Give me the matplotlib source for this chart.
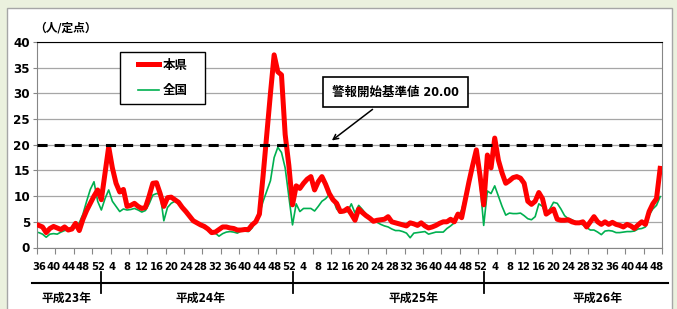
import numpy as np
import matplotlib
matplotlib.use("Agg")
import matplotlib.pyplot as plt
from matplotlib import font_manager
import matplotlib.patheffects as pe
from matplotlib.patches import Rectangle
from matplotlib.lines import Line2D
from matplotlib.transforms import blended_transform_factory

# pick a narrow font for the numbers if one is installed
fonts = font_manager.fontManager.ttflist
names = {f.name for f in fonts}
num_stretch = 'normal'
xlab_size = 7.5
if 'Liberation Sans Narrow' in names:
    num_family = 'Liberation Sans Narrow'
    xlab_size = 9
elif any(f.name == 'DejaVu Sans' and f.stretch == 'condensed' for f in fonts):
    num_family = 'DejaVu Sans'
    num_stretch = 'condensed'
    xlab_size = 8
else:
    num_family = 'Liberation Sans'
cjk_bold = any(f.name == 'Noto Sans CJK JP' and f.weight in (700, 'bold') for f in fonts)

plt.rcParams['font.family'] = [num_family, 'Noto Sans CJK JP', 'DejaVu Sans']
plt.rcParams['font.weight'] = 'bold'
plt.rcParams['font.stretch'] = num_stretch
fake_bold = [] if cjk_bold else [pe.withStroke(linewidth=0.7, foreground='black')]

# ---- data (weekly cases per sentinel) ----
year_labels = ['平成23年', '平成24年', '平成25年', '平成26年']
weeks_h23 = list(range(36, 53))
weeks_h24 = list(range(1, 53))
weeks_h25 = list(range(1, 53))
weeks_h26 = list(range(1, 50))

# 本県
ken_h23 = [4.3, 4.0, 2.9, 3.7, 4.1, 3.8, 3.5, 4.0, 3.4, 3.6, 4.7, 3.3, 5.5, 7.2, 8.6, 10.0, 11.2]
ken_h24 = [9.3, 14.5, 19.6, 15.5, 12.5, 10.8, 11.3, 8.0, 8.2, 8.6, 8.0, 7.6, 7.8, 10.0, 12.5, 12.6,
           10.5, 8.0, 9.7, 9.8, 9.3, 8.8, 7.8, 7.0, 6.1, 5.2, 4.8, 4.4, 4.1, 3.6, 2.9, 3.0,
           3.5, 4.0, 4.0, 3.8, 3.7, 3.4, 3.4, 3.5, 3.5, 4.4, 5.0, 6.5, 14.0, 22.0, 30.0, 37.5,
           34.2, 33.6, 22.0, 16.0]
ken_h25 = [8.3, 12.0, 11.5, 12.5, 13.3, 13.8, 11.2, 12.8, 13.8, 12.3, 10.5, 9.3, 8.6, 7.0, 7.1, 7.6,
           6.5, 5.3, 7.5, 6.8, 6.2, 5.7, 5.1, 5.3, 5.4, 5.5, 6.0, 5.0, 4.8, 4.6, 4.4, 4.2,
           4.8, 4.6, 4.3, 4.8, 4.2, 3.8, 4.0, 4.3, 4.7, 5.0, 5.0, 5.5, 5.0, 6.5, 5.8, 9.3,
           12.8, 16.0, 19.0, 14.0]
ken_h26 = [8.3, 18.0, 15.5, 21.3, 17.0, 14.5, 12.5, 13.0, 13.6, 13.8, 13.5, 12.5, 9.0, 8.4, 9.0, 10.7,
           9.5, 6.5, 7.0, 7.5, 5.5, 5.3, 5.3, 5.4, 5.0, 4.8, 4.8, 5.0, 4.0, 5.0, 6.0, 5.0,
           4.5, 5.0, 4.5, 4.9, 4.5, 4.3, 4.0, 4.5, 4.2, 3.7, 4.4, 5.0, 4.5, 7.0, 8.5, 9.5, 15.4]

# 全国
zen_h23 = [2.9, 2.6, 2.0, 2.6, 2.7, 2.6, 3.0, 3.3, 3.4, 3.4, 4.0, 4.8, 6.5, 9.0, 11.3, 12.8, 9.0]
zen_h24 = [7.3, 9.5, 11.2, 9.0, 8.0, 7.0, 7.5, 7.3, 7.4, 7.6, 7.3, 6.9, 7.2, 8.5, 10.2, 10.5,
           10.4, 5.2, 7.8, 8.6, 9.0, 8.7, 7.9, 7.0, 6.3, 5.3, 5.0, 4.3, 3.8, 3.5, 3.3, 2.8,
           2.2, 2.7, 3.0, 3.1, 3.0, 2.8, 3.2, 3.2, 3.1, 3.8, 5.0, 6.5, 9.0, 11.0, 13.0, 17.5,
           19.5, 18.5, 15.5, 10.0]
zen_h25 = [4.4, 8.5, 7.0, 7.6, 7.6, 7.6, 7.1, 8.0, 9.0, 9.5, 10.3, 9.5, 7.5, 6.7, 6.9, 7.0,
           8.5, 6.7, 8.2, 7.4, 6.5, 6.0, 5.3, 4.9, 4.5, 4.2, 4.0, 3.6, 3.3, 3.3, 3.1, 2.8,
           1.9, 2.8, 2.9, 3.0, 3.1, 2.6, 2.8, 3.0, 3.0, 3.0, 3.7, 4.2, 4.8, 6.0, 7.3, 10.0,
           12.5, 15.2, 18.3, 12.5]
zen_h26 = [4.3, 11.0, 10.5, 12.0, 10.0, 8.0, 6.3, 6.7, 6.6, 6.6, 6.7, 6.2, 5.6, 5.4, 6.0, 8.5,
           8.0, 6.3, 7.5, 8.8, 8.6, 7.5, 6.2, 5.6, 5.4, 5.0, 4.7, 4.4, 3.9, 3.4, 3.4, 3.0,
           2.5, 3.2, 3.3, 3.2, 2.9, 2.9, 3.0, 3.1, 3.1, 3.2, 3.6, 3.7, 4.0, 6.3, 7.5, 8.2, 9.9]

threshold = 20.00

weeks = weeks_h23 + weeks_h24 + weeks_h25 + weeks_h26
ken = np.array(ken_h23 + ken_h24 + ken_h25 + ken_h26)
zen = np.array(zen_h23 + zen_h24 + zen_h25 + zen_h26)
n = len(weeks)
x = np.arange(n)
# first week of each new year (for the separators)
year_starts = [len(weeks_h23), len(weeks_h23) + len(weeks_h24),
               len(weeks_h23) + len(weeks_h24) + len(weeks_h25)]
year_label_pos = [7.5, 44, 102, 152]

W, H = 677, 309
fig = plt.figure(figsize=(W / 100, H / 100), dpi=100, facecolor='#EBF1DE')
fig.add_artist(Rectangle((7 / W, -0.05), (672 - 7) / W, 1.05 - 8 / H, transform=fig.transFigure,
                         fc='white', ec='#A6A6A6', lw=1, zorder=-1))

ax = fig.add_axes([37 / W, 1 - 247.5 / H, (662 - 37) / W, (247.5 - 42) / H])
ax.set_facecolor('white')

ax.plot(x, zen, color='#00B050', lw=1.2, zorder=3)
ax.plot(x, ken, color='#FF0000', lw=3.6, solid_joinstyle='round', zorder=4)
ax.axhline(threshold, color='black', lw=2.2, ls=(0, (3.3, 2.3)), zorder=5)

ax.set_xlim(-0.5, n - 0.5)
ax.set_ylim(0, 40)
ax.set_yticks(np.arange(0, 41, 5))
ax.grid(axis='y', color='#A6A6A6', lw=0.9)
ax.set_axisbelow(True)

ax.set_xticks(np.arange(-0.5, n, 5))
ax.set_xticklabels([])
ax.set_xticks(x[::4], minor=True)
ax.set_xticklabels([str(w) for w in weeks[::4]], minor=True)
ax.tick_params(axis='x', which='major', length=4, color='#868686', direction='out')
ax.tick_params(axis='x', which='minor', length=0, pad=10.5, labelsize=xlab_size)
ax.tick_params(axis='y', length=3, color='#868686', pad=2, labelsize=9.5)

for s in ['left', 'bottom', 'right']:
    ax.spines[s].set_color('#868686')
ax.spines['top'].set_color('black')

# threshold label
ax.annotate('警報開始基準値 20.00', xy=(79.1, 20.5), xytext=(97, 30.3),
            ha='center', va='center', fontsize=9, fontweight='bold', zorder=6,
            path_effects=fake_bold,
            bbox=dict(boxstyle='square,pad=0.7', fc='white', ec='black', lw=1.2),
            arrowprops=dict(arrowstyle='->', color='black', lw=1.1))

# legend
fig.add_artist(Rectangle((120 / W, 1 - 104 / H), 85 / W, 52 / H, transform=fig.transFigure,
                         fc='white', ec='black', lw=1, zorder=2))
handles = [Line2D([], [], color='#FF0000', lw=3.6), Line2D([], [], color='#00B050', lw=1.2)]
leg = fig.legend(handles, ['本県', '全国'], loc='center', bbox_to_anchor=(163 / W, 1 - 78 / H),
                 frameon=False, fontsize=9, handlelength=1.7, handletextpad=0.3, labelspacing=1.0)
for t in leg.get_texts():
    t.set_path_effects(fake_bold)

fig.text(34 / W, 1 - 28 / H, '（人/定点）', ha='left', va='center', fontsize=8.5,
         path_effects=fake_bold)

# year axis below
tr = blended_transform_factory(ax.transData, fig.transFigure)
fig.add_artist(Line2D([32 / W, 668 / W], [1 - 283 / H] * 2, transform=fig.transFigure,
                      color='black', lw=1.5))
for s in year_starts:
    fig.add_artist(Line2D([s, s], [1 - 272 / H, 1 - 293 / H], transform=tr, color='black', lw=1.3))
for p, lab in zip(year_label_pos, year_labels):
    fig.text(p, 1 - 298 / H, lab, transform=tr, ha='center', va='center', fontsize=8.5,
             path_effects=fake_bold)

fig.savefig('out.png', dpi=100, facecolor=fig.get_facecolor())
